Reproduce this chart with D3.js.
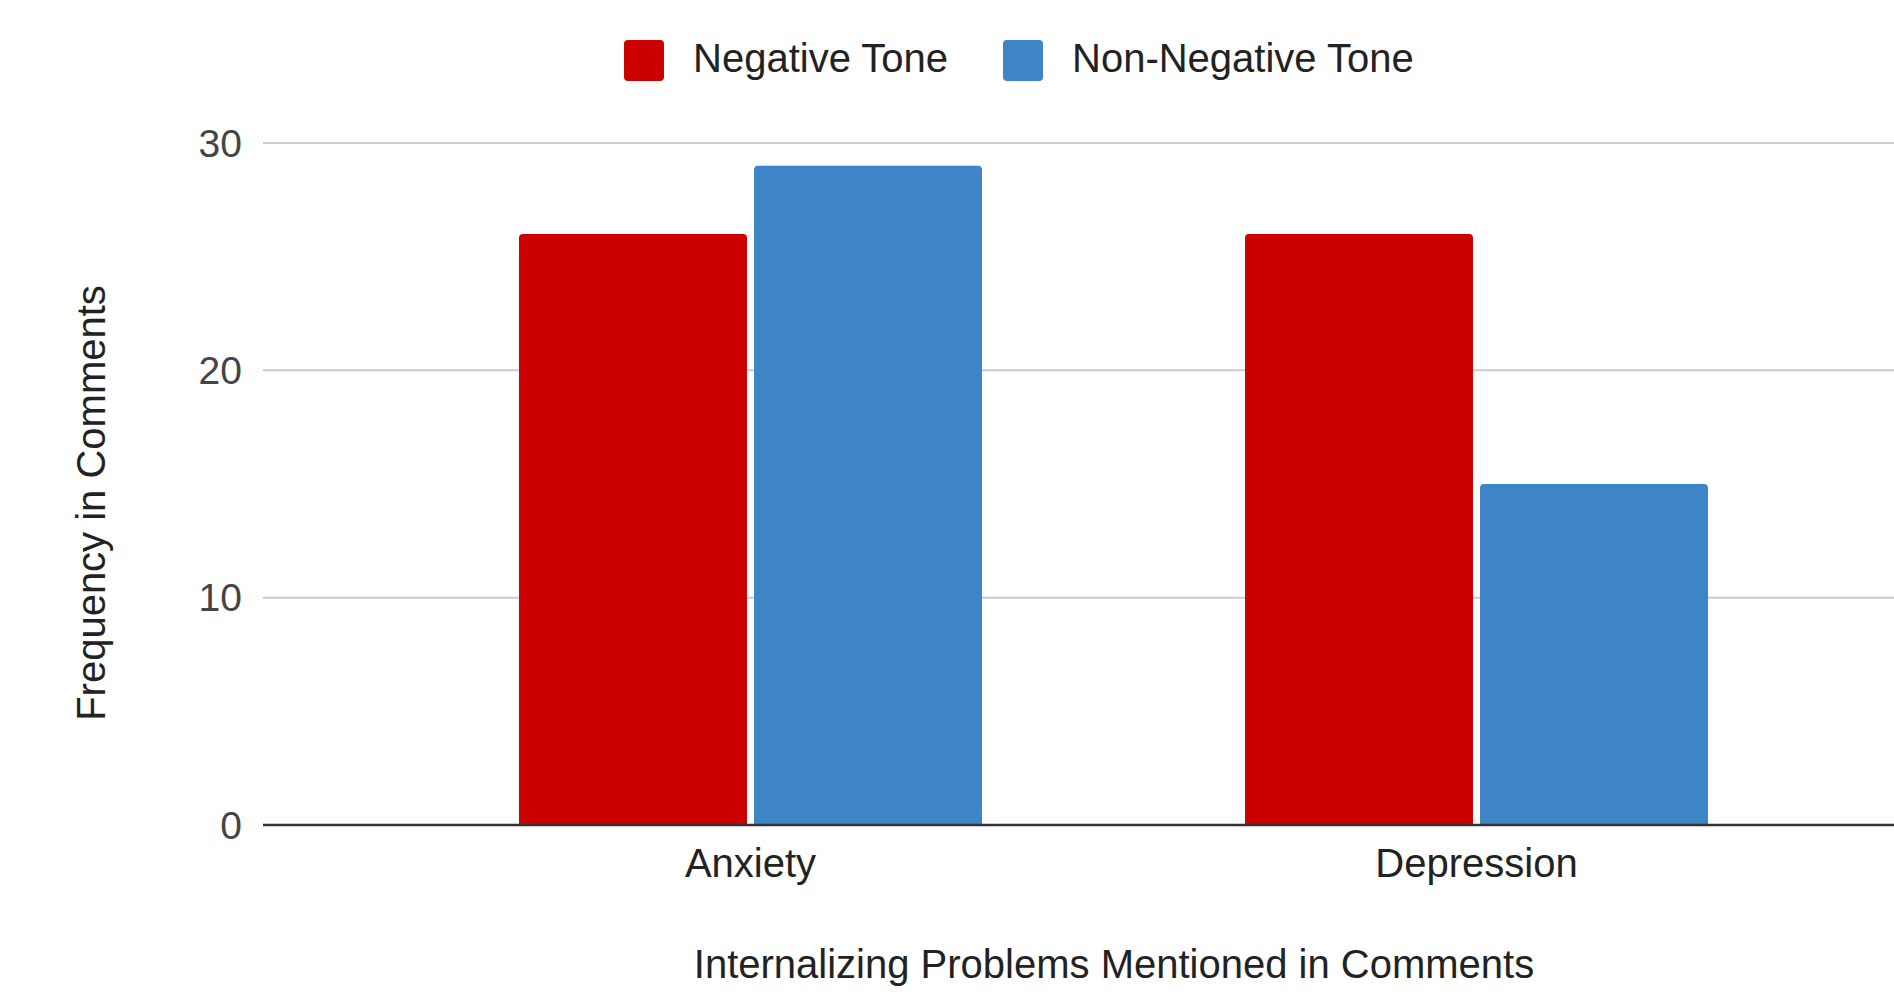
<!DOCTYPE html>
<html>
<head>
<meta charset="utf-8">
<script src="https://cdn.jsdelivr.net/npm/d3@7"></script>
<style>
  html, body { margin: 0; padding: 0; background: #ffffff; }
  svg { display: block; font-family: "Liberation Sans", Arial, sans-serif; }
</style>
</head>
<body>
<svg id="chart" width="1894" height="995"></svg>
<script>
const categories = ["Anxiety", "Depression"];
const seriesNames = ["Negative Tone", "Non-Negative Tone"];
const negativeTone = [26, 26];
const nonNegativeTone = [29, 15];
const yTicks = [0, 10, 20, 30];
const seriesColors = ["#cc0000", "#3d85c6"];
const xTitle = "Internalizing Problems Mentioned in Comments";
const yTitle = "Frequency in Comments";

const seriesValues = [negativeTone, nonNegativeTone];
const W = 1894, H = 995;
const plotLeft = 263, plotRight = 1894, plotTop = 143, plotBottom = 825;
const fontSize = 40;

const svg = d3.select("#chart");

const y = d3.scaleLinear().domain([0, 30]).range([plotBottom, plotTop]);
const groupPad = 0.3623;
const x0 = d3.scaleBand().domain(categories).range([387.5, 1839.5])
  .paddingInner(groupPad).paddingOuter(groupPad / 2);
const x1 = d3.scaleBand().domain(seriesNames).range([0, x0.bandwidth()]).paddingInner(0.03);

// gridlines
svg.append("g").selectAll("line").data(yTicks.filter(t => t !== 0)).join("line")
  .attr("x1", plotLeft).attr("x2", plotRight)
  .attr("y1", d => y(d)).attr("y2", d => y(d))
  .attr("stroke", "#cccccc").attr("stroke-width", 2);

// y axis tick labels
const yAxis = d3.axisLeft(y).tickValues(yTicks).tickSize(0).tickPadding(21).tickFormat(d3.format("d"));
const gy = svg.append("g").attr("transform", `translate(${plotLeft},0)`).call(yAxis);
gy.select(".domain").remove();
gy.selectAll("text").attr("font-size", 39).attr("fill", "#444444")
  .attr("font-family", "Liberation Sans, Arial, sans-serif").attr("dy", "0.34em");

// bars with rounded top corners
const r = 4;
function barPath(x, yTop, w, yBase) {
  const rr = Math.min(r, w / 2, (yBase - yTop));
  return `M${x},${yBase}V${yTop + rr}Q${x},${yTop} ${x + rr},${yTop}H${x + w - rr}Q${x + w},${yTop} ${x + w},${yTop + rr}V${yBase}Z`;
}
const barData = [];
categories.forEach((c, ci) => {
  seriesNames.forEach((s, si) => {
    barData.push({ cat: c, series: s, value: seriesValues[si][ci], color: seriesColors[si] });
  });
});
svg.append("g").selectAll("path").data(barData).join("path")
  .attr("d", d => barPath(x0(d.cat) + x1(d.series), y(d.value), x1.bandwidth(), y(0)))
  .attr("fill", d => d.color);

// baseline
svg.append("line")
  .attr("x1", plotLeft).attr("x2", plotRight)
  .attr("y1", y(0)).attr("y2", y(0))
  .attr("stroke", "#333333").attr("stroke-width", 2.5);

// x axis labels
const xAxis = d3.axisBottom(x0).tickSize(0).tickPadding(24);
const gx = svg.append("g").attr("transform", `translate(0,${plotBottom})`).call(xAxis);
gx.select(".domain").remove();
gx.selectAll("text").attr("font-size", fontSize).attr("fill", "#222222")
  .attr("font-family", "Liberation Sans, Arial, sans-serif");

// axis titles
svg.append("text")
  .attr("x", 1114).attr("y", 978)
  .attr("text-anchor", "middle").attr("font-size", fontSize).attr("fill", "#222222")
  .text(xTitle);
svg.append("text")
  .attr("transform", "translate(105,503) rotate(-90)")
  .attr("text-anchor", "middle").attr("font-size", fontSize).attr("fill", "#222222")
  .text(yTitle);

// legend
const legendX = [624, 1003];
const lg = svg.append("g").selectAll("g").data(seriesNames).join("g")
  .attr("transform", (d, i) => `translate(${legendX[i]},40)`);
lg.append("rect").attr("width", 40).attr("height", 41).attr("rx", 4).attr("ry", 4)
  .attr("fill", (d, i) => seriesColors[i]);
lg.append("text").attr("x", 69).attr("y", 32).attr("font-size", fontSize).attr("fill", "#222222")
  .text(d => d);
</script>
</body>
</html>
